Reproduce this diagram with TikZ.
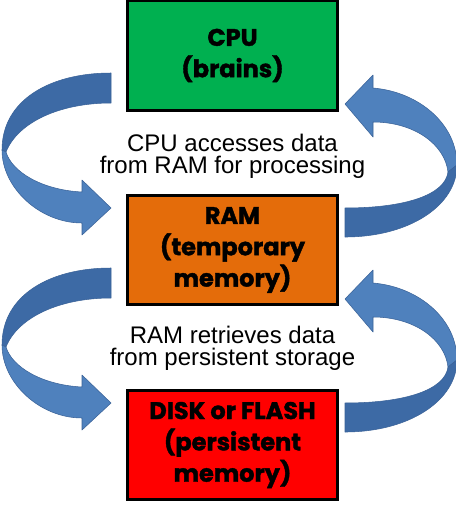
\documentclass[tikz,border=0pt]{standalone}
\usepackage{fontspec}
\setmainfont{Liberation Sans}
\newfontfamily\boxfont{Poppins}[BoldFeatures={FakeBold=1.6}]
\definecolor{cpugreen}{HTML}{00B050}
\definecolor{ramorange}{HTML}{E46C0A}
\definecolor{diskred}{HTML}{FF0000}
\definecolor{arrowfront}{HTML}{4F81BD}
\definecolor{arrowback}{HTML}{3D6AA5}
\definecolor{arrowedge}{HTML}{3A6298}
\tikzset{
  membox/.style={draw=black, line width=2.2pt, minimum width=158pt, minimum height=82pt,
    inner sep=0pt, align=center, font=\boxfont\bfseries\fontsize{18}{23.5}\selectfont},
  caption/.style={align=center, inner sep=0pt, font=\fontsize{18}{16.5}\selectfont},
  bandfront/.style={fill=arrowfront, draw=arrowedge, line width=0.4pt, line join=round},
  bandback/.style={fill=arrowback, draw=arrowedge, line width=0.4pt, line join=round},
  downarrow/.pic={
    \path[bandback] (111,73) .. controls (50,73) and (2,100) .. (2,150) -- (6,152)
      .. controls (18,122) and (60,103) .. (111,103) -- cycle;
    \path[bandfront] (2,150) .. controls (2,188) and (40,223) .. (82,223) -- (82,235)
      -- (111,208) -- (82,180) -- (82,192) .. controls (42,190) and (12,172) .. (6,152) -- cycle;
  },
  uparrow/.pic={
    \path[bandfront] (373,88) .. controls (420,92) and (457,125) .. (457,165) -- (448,172)
      .. controls (445,145) and (415,122) .. (373,122) -- (373,137) -- (345,104) -- (373,75) -- cycle;
    \path[bandback] (457,165) .. controls (457,205) and (410,237) .. (345,237) -- (345,208)
      .. controls (405,208) and (445,195) .. (448,172) -- cycle;
  }
}
\begin{document}
\begin{tikzpicture}[x=0.75pt, y=-0.75pt]
\useasboundingbox[fill=white] (0,0) rectangle (456,511);
\pic at (0,0) {downarrow};
\pic at (0,195) {downarrow};
\pic at (0,0) {uparrow};
\pic at (0,195) {uparrow};
\node[membox, fill=cpugreen] (cpu) at (232.5,55.5) {CPU\\(brains)};
\node[membox, fill=ramorange] (ram) at (232.5,250) {RAM\\(temporary\\memory)};
\node[membox, fill=diskred] (disk) at (232.5,445) {DISK or FLASH\\(persistent\\memory)};
\node[caption] (cap1) at (232.5,156) {CPU accesses data\\from RAM for processing};
\node[caption] (cap2) at (232.5,348) {RAM retrieves data\\from persistent storage};
\end{tikzpicture}
\end{document}
